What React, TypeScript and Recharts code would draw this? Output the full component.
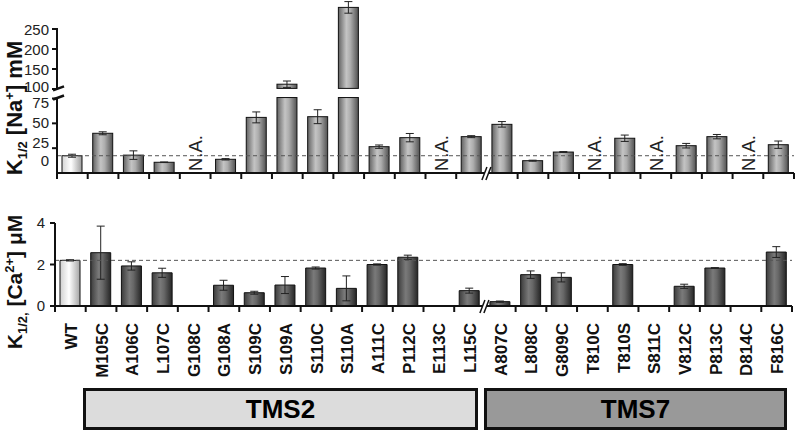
import React from "react";
import { BarChart, Bar, XAxis, YAxis, ErrorBar, ReferenceLine, Cell } from "recharts";

const mutants = [
  "WT", "M105C", "A106C", "L107C", "G108C", "G108A", "S109C", "S109A", "S110C", "S110A", "A111C", "P112C",
  "E113C", "L115C", "A807C", "L808C", "G809C", "T810C", "T810S", "S811C", "V812C", "P813C", "D814C", "F816C",
];

// K1/2 for Na+ (mM); null = N.A.
const naK = [17.4, 40, 18, 10.8, null, 13.8, 56, 112, 56.7, 304, 26.5, 35.6, null, 36.6, 49, 12.4, 21.1, null, 35, null, 27.5, 36.6, null, 28.5];
const naSem = [1.5, 1.5, 4.3, 0.3, null, 0.7, 5.5, 8, 7, 14.5, 1.7, 4.2, null, 1, 2.8, 0.5, 0.5, null, 3.2, null, 2.3, 2.2, null, 3.7];

// K1/2 for Ca2+ (uM); null = not measured
const caK = [2.2, 2.57, 1.93, 1.6, null, 1.0, 0.64, 1.01, 1.83, 0.85, 2.0, 2.35, null, 0.74, 0.21, 1.51, 1.38, null, 2.0, null, 0.95, 1.83, null, 2.6];
const caSem = [0.03, 1.28, 0.2, 0.22, null, 0.24, 0.07, 0.41, 0.05, 0.6, 0.03, 0.1, null, 0.12, 0.03, 0.18, 0.22, null, 0.04, null, 0.1, 0.02, null, 0.26];

const naTicks = [0, 25, 50, 75, 100, 150, 200, 250];
const caTicks = [0, 2, 4];
const groups = ["TMS2", "TMS7"];

const FONT = "'Liberation Sans', Arial, Helvetica, sans-serif";
const INK = "#111";
const W = 802;

// broken Na+ axis, 1 axis unit = 1px of plot height
const BREAK_LO = 76;
const BREAK_HI = 101.5;
const toAxis = (v: number) => (v <= 80 ? v * 0.993 : 84 + (v - 100) * 0.4);

const NA_H = 185;
const NA_M = { top: 1, right: 8, bottom: 0, left: 0 };
const NA_YW = 57;
const NA_XH = 12;
const NA_MAX = NA_H - NA_M.top - NA_XH;

const CA_H = 190;
const CA_M = { top: 23, right: 10, bottom: 0, left: 0 };
const CA_YW = 55;
const CA_XH = 84;

const BAND = (W - NA_YW - NA_M.right) / mutants.length;
const BREAK_AT = mutants.indexOf("A807C");

const naData = mutants.map((name, i) => {
  const v = naK[i];
  const e = naSem[i];
  return {
    name,
    raw: v,
    k: v == null ? null : toAxis(v),
    err: v == null || e == null ? null : [toAxis(v) - toAxis(v - e), toAxis(v + e) - toAxis(v)],
  };
});

const caData = mutants.map((name, i) => ({ name, k: caK[i], err: caSem[i] }));

function BrokenBar(props: any) {
  const { x, y, width, height, fill, payload } = props;
  if (payload.raw == null || !height) return null;
  const base = y + height;
  const px = height / payload.k;
  if (payload.raw > BREAK_LO) {
    const lowTop = base - toAxis(BREAK_LO) * px;
    const highBottom = base - toAxis(BREAK_HI) * px;
    return (
      <g>
        <rect x={x} y={lowTop} width={width} height={base - lowTop} fill={fill} stroke={INK} strokeWidth={1} />
        <rect x={x} y={y} width={width} height={highBottom - y} fill={fill} stroke={INK} strokeWidth={1} />
      </g>
    );
  }
  return <rect x={x} y={y} width={width} height={height} fill={fill} stroke={INK} strokeWidth={1} />;
}

function Slash({ x, y }: any) {
  return <line x1={x - 4} y1={y + 2} x2={x + 7} y2={y - 2} stroke={INK} strokeWidth={2.5} />;
}

function AxisBreak({ x, y }: any) {
  return (
    <g>
      <polygon points={`${x - 5},${y + 7} ${x},${y - 6} ${x + 4},${y - 6} ${x - 1},${y + 7}`} fill="#fff" />
      <line x1={x - 5} y1={y + 7} x2={x} y2={y - 6} stroke={INK} strokeWidth={1.5} />
      <line x1={x - 1} y1={y + 7} x2={x + 4} y2={y - 6} stroke={INK} strokeWidth={1.5} />
    </g>
  );
}

// labels in the original sit a little off their ticks
const NA_NUDGE: Record<number, number> = { 0: -13, 25: -6, 50: -1, 75: 4, 100: -3 };

function NaYTick({ x, y, index }: any) {
  const v = naTicks[index];
  const lowSeg = toAxis(BREAK_LO);
  const highSeg = toAxis(250) - toAxis(BREAK_HI);
  return (
    <g>
      {v !== 0 && <line x1={x - 5} x2={x} y1={y} y2={y} stroke={INK} strokeWidth={2} />}
      {v === 0 && (
        <g>
          <line x1={x} x2={x} y1={y + 6} y2={y - lowSeg} stroke={INK} strokeWidth={2} />
          <Slash x={x} y={y - lowSeg} />
        </g>
      )}
      {v === 250 && (
        <g>
          <line x1={x} x2={x} y1={y - 1} y2={y + highSeg} stroke={INK} strokeWidth={2} />
          <Slash x={x} y={y + highSeg} />
        </g>
      )}
      <text x={x - 8} y={y + (NA_NUDGE[v] ?? 0)} textAnchor="end" dominantBaseline="central" fontSize={15} fill="#222" fontFamily={FONT}>
        {v}
      </text>
    </g>
  );
}

function BoundaryTicks({ x, y, index }: any) {
  const left = x - BAND / 2;
  return (
    <g>
      {index === BREAK_AT ? (
        <AxisBreak x={left} y={y} />
      ) : (
        <line x1={left} x2={left} y1={y} y2={y + 6} stroke={INK} strokeWidth={2} />
      )}
      {index === mutants.length - 1 && (
        <line x1={x + BAND / 2} x2={x + BAND / 2} y1={y} y2={y + 6} stroke={INK} strokeWidth={2} />
      )}
    </g>
  );
}

function NaXTick(props: any) {
  const { x, y, index } = props;
  return (
    <g>
      <BoundaryTicks {...props} />
      {naK[index] == null && (
        <text transform={`translate(${x + 7},${y - 2}) rotate(-90)`} fontSize={18.5} fill="#222" fontFamily={FONT}>
          N.A.
        </text>
      )}
    </g>
  );
}

function CaXTick(props: any) {
  const { x, y, index } = props;
  return (
    <g>
      <BoundaryTicks {...props} />
      <text
        transform={`translate(${x + 6.5},${y + 17}) rotate(-90)`}
        textAnchor="end"
        fontSize={17}
        fontWeight="bold"
        fill={INK}
        fontFamily={FONT}
      >
        {mutants[index]}
      </text>
    </g>
  );
}

function Grad({ id, stops }: { id: string; stops: [number, string][] }) {
  return (
    <linearGradient id={id} x1="0" y1="0" x2="1" y2="0">
      {stops.map(([o, c]) => (
        <stop key={o} offset={o} stopColor={c} />
      ))}
    </linearGradient>
  );
}

export default function App() {
  return (
    <div style={{ position: "absolute", left: 0, top: 0, width: W, height: 432, background: "#fff", fontFamily: FONT }}>
      <div style={{ position: "absolute", left: 0, top: 0 }}>
        <BarChart width={W} height={NA_H} data={naData} margin={NA_M}>
          <defs>
            <Grad id="naBar" stops={[[0, "#626262"], [0.4, "#c4c4c4"], [0.6, "#adadad"], [1, "#515151"]]} />
            <Grad id="naWT" stops={[[0, "#d4d4d4"], [0.45, "#ffffff"], [1, "#9c9c9c"]]} />
          </defs>
          <XAxis
            dataKey="name"
            height={NA_XH}
            interval={0}
            tickSize={0}
            tickMargin={0}
            tickLine={false}
            axisLine={{ stroke: INK, strokeWidth: 2 }}
            tick={<NaXTick />}
          />
          <YAxis
            type="number"
            width={NA_YW}
            domain={[0, NA_MAX]}
            ticks={naTicks.map(toAxis)}
            interval={0}
            tickSize={0}
            tickMargin={0}
            tickLine={false}
            axisLine={false}
            tick={<NaYTick />}
          />
          <Bar dataKey="k" barSize={20} isAnimationActive={false} shape={(p: any) => <BrokenBar {...p} />}>
            {naData.map((d) => (
              <Cell key={d.name} fill={d.name === "WT" ? "url(#naWT)" : "url(#naBar)"} />
            ))}
            <ErrorBar dataKey="err" width={4} stroke="#222" strokeWidth={1} />
          </Bar>
          <ReferenceLine y={toAxis(naK[0] as number)} stroke="#555" strokeDasharray="4 3" strokeWidth={1} />
        </BarChart>
      </div>

      <div style={{ position: "absolute", left: 0, top: 200 }}>
        <BarChart width={W} height={CA_H} data={caData} margin={CA_M}>
          <defs>
            <Grad id="caBar" stops={[[0, "#3c3c3c"], [0.4, "#7a7a7a"], [0.6, "#676767"], [1, "#262626"]]} />
            <Grad id="caWT" stops={[[0, "#cfcfcf"], [0.45, "#ffffff"], [1, "#a4a4a4"]]} />
          </defs>
          <XAxis
            dataKey="name"
            height={CA_XH}
            interval={0}
            tickSize={0}
            tickMargin={0}
            tickLine={false}
            axisLine={{ stroke: INK, strokeWidth: 2 }}
            tick={<CaXTick />}
          />
          <YAxis
            type="number"
            width={CA_YW}
            domain={[0, 4]}
            ticks={caTicks}
            interval={0}
            tickSize={5}
            tickMargin={5}
            tickLine={{ stroke: INK, strokeWidth: 2 }}
            axisLine={{ stroke: INK, strokeWidth: 2 }}
            tick={{ fontSize: 15, fill: "#222", fontFamily: FONT }}
          />
          <Bar dataKey="k" barSize={20} stroke={INK} strokeWidth={1} isAnimationActive={false}>
            {caData.map((d) => (
              <Cell key={d.name} fill={d.name === "WT" ? "url(#caWT)" : "url(#caBar)"} />
            ))}
            <ErrorBar dataKey="err" width={4} stroke="#222" strokeWidth={1} />
          </Bar>
          <ReferenceLine y={caK[0] as number} stroke="#555" strokeDasharray="4 3" strokeWidth={1} />
        </BarChart>
      </div>

      <svg width={W} height={432} style={{ position: "absolute", left: 0, top: 0, pointerEvents: "none" }}>
        <text transform="translate(22,108) rotate(-90)" textAnchor="middle" fontSize={22} fontWeight="bold" fill={INK} fontFamily={FONT}>
          K<tspan fontSize={13} dy={5}>1/2</tspan>
          <tspan dy={-5}> [Na</tspan>
          <tspan fontSize={13} dy={-8}>+</tspan>
          <tspan dy={8}>] mM</tspan>
        </text>
        <text transform="translate(22,282) rotate(-90)" textAnchor="middle" fontSize={21} fontWeight="bold" fill={INK} fontFamily={FONT}>
          K<tspan fontSize={13} dy={5}>1/2,</tspan>
          <tspan dy={-5}> [Ca</tspan>
          <tspan fontSize={13} dy={-8}>2+</tspan>
          <tspan dy={8}>] μM</tspan>
        </text>
      </svg>

      <div
        style={{
          position: "absolute", left: 83, top: 388, width: 395, height: 42, boxSizing: "border-box",
          border: `3px solid ${INK}`, background: "#dcdcdc", display: "flex", alignItems: "center",
          justifyContent: "center", fontWeight: "bold", fontSize: 26,
        }}
      >
        {groups[0]}
      </div>
      <div
        style={{
          position: "absolute", left: 484, top: 388, width: 303, height: 42, boxSizing: "border-box",
          border: `3px solid ${INK}`, background: "#999999", display: "flex", alignItems: "center",
          justifyContent: "center", fontWeight: "bold", fontSize: 26,
        }}
      >
        {groups[1]}
      </div>
    </div>
  );
}
